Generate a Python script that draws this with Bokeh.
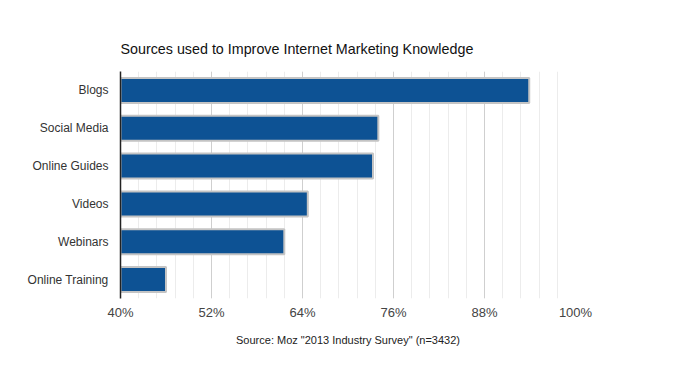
from bokeh.plotting import figure
from bokeh.models import FixedTicker, PrintfTickFormatter, Title
from bokeh.embed import file_html
from bokeh.resources import INLINE

categories = ["Blogs", "Social Media", "Online Guides", "Videos", "Webinars", "Online Training"]
values = [93.9, 74.0, 73.3, 64.7, 61.6, 46.0]
major_ticks = [40, 52, 64, 76, 88, 100]
minor_ticks = [40 + 2.4 * i for i in range(26)]

p = figure(y_range=list(reversed(categories)), x_range=(40, 100),
           frame_width=455, frame_height=227, width=679, height=350,
           output_backend="svg", toolbar_location=None,
           min_border_left=120, min_border_right=104, min_border_top=71, min_border_bottom=52)

p.hbar(y=categories, right=values, left=40, height=0.66,
       fill_color="#0d5294", line_color="#c4c4c4", line_width=2)

p.title.text = "Sources used to Improve Internet Marketing Knowledge"
p.title.text_font = "Liberation Sans"
p.title.text_font_size = "14.3px"
p.title.text_font_style = "normal"
p.title.text_color = "#111111"
p.title.standoff = 30

src = Title(text='Source: Moz "2013 Industry Survey" (n=3432)', align="center",
            text_font="Liberation Sans", text_font_size="11px", text_font_style="normal",
            text_color="#222222", standoff=18)
p.add_layout(src, "below")

p.xaxis.ticker = FixedTicker(ticks=major_ticks, minor_ticks=minor_ticks)
p.xaxis.formatter = PrintfTickFormatter(format="%d%%")
p.xaxis.axis_line_color = None
p.xaxis.major_tick_line_color = None
p.xaxis.minor_tick_line_color = None
p.xaxis.major_label_text_font = "Liberation Sans"
p.xaxis.major_label_text_font_size = "13px"
p.xaxis.major_label_text_color = "#444444"
p.xaxis.major_label_standoff = 0

p.yaxis.axis_line_color = "#222222"
p.yaxis.axis_line_width = 1.5
p.yaxis.major_tick_line_color = None
p.yaxis.minor_tick_line_color = None
p.yaxis.major_label_text_font = "Liberation Sans"
p.yaxis.major_label_text_font_size = "12px"
p.yaxis.major_label_text_color = "#333333"
p.yaxis.major_label_standoff = 6

p.ygrid.grid_line_color = None
p.xgrid.grid_line_color = "#cfcfcf"
p.xgrid.minor_grid_line_color = "#ececec"
p.outline_line_color = None

open("out.html", "w").write(file_html(p, INLINE))
